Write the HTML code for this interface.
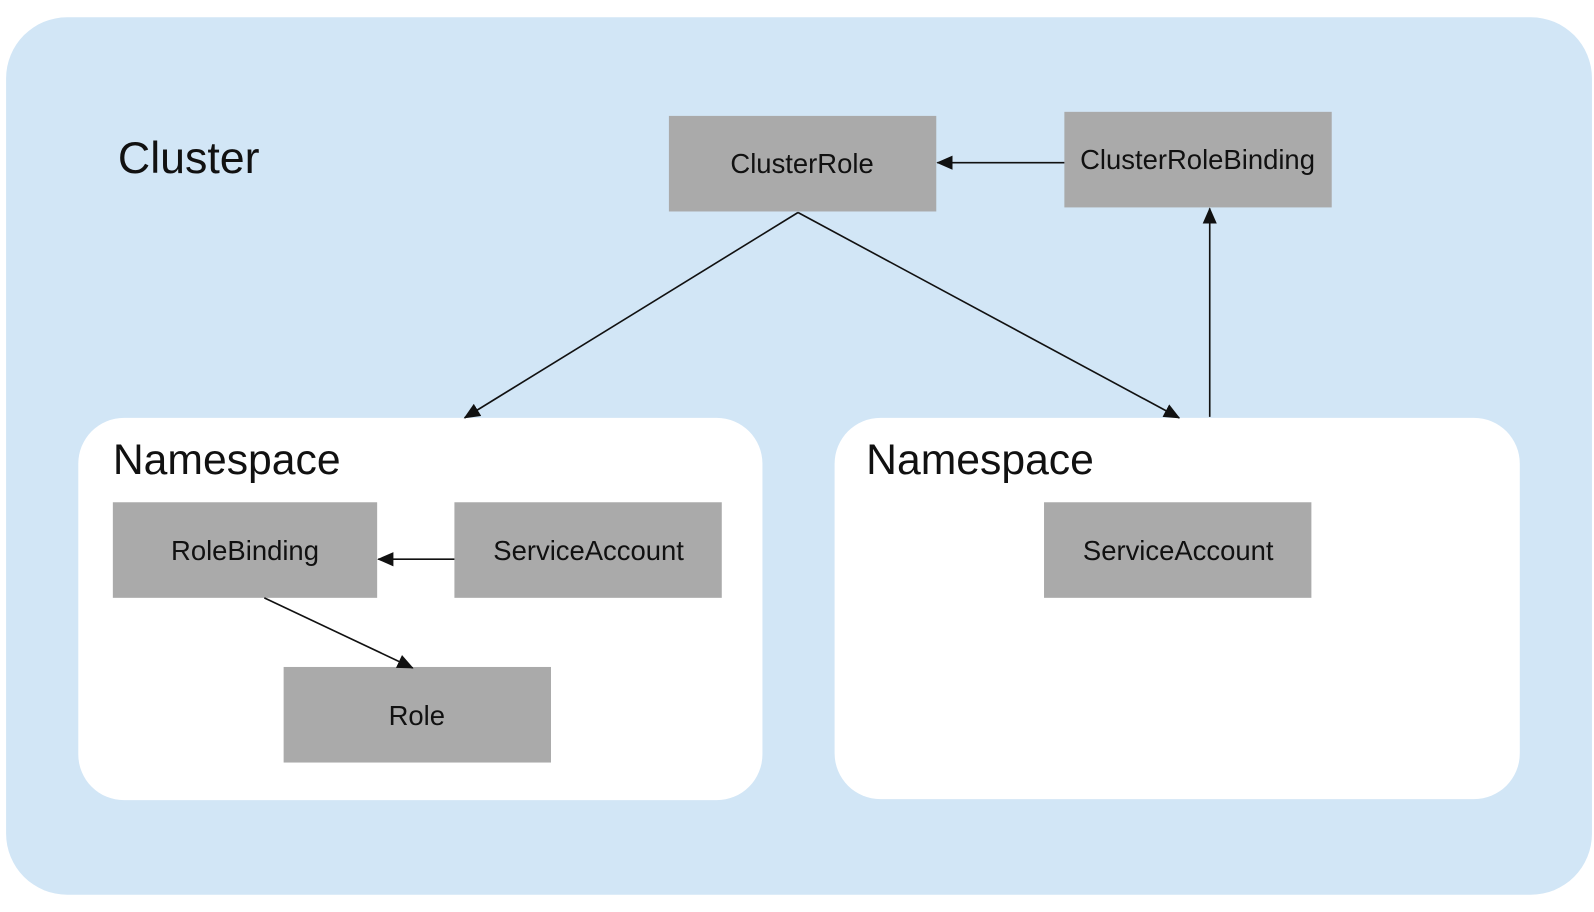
<!DOCTYPE html>
<html><head><style>html,body{margin:0;padding:0;background:#fff}svg{display:block}</style></head>
<body>
<svg width="1594" height="912" viewBox="0 0 1568 897" preserveAspectRatio="none" xmlns="http://www.w3.org/2000/svg">
<defs><marker id="a" markerWidth="10" markerHeight="10" refX="9" refY="5" orient="auto" markerUnits="userSpaceOnUse" viewBox="0 0 10 10"><path d="M0,0 L10,5 L0,10 z" fill="#111"/></marker>
<marker id="b" markerWidth="16" markerHeight="14" refX="15" refY="7" orient="auto" markerUnits="userSpaceOnUse" viewBox="0 0 16 14"><path d="M0,0 L16,7 L0,14 z" fill="#111"/></marker></defs>
<rect x="6" y="17" width="1560" height="863" rx="60" fill="#d2e6f6"/>
<rect x="77" y="411" width="673" height="376" rx="45" fill="#fff"/>
<rect x="821" y="411" width="674" height="375" rx="45" fill="#fff"/>
<g fill="#aaaaaa">
<rect x="658" y="114" width="263" height="94"/>
<rect x="1047" y="110" width="263" height="94"/>
<rect x="111" y="494" width="260" height="94"/>
<rect x="447" y="494" width="263" height="94"/>
<rect x="1027" y="494" width="263" height="94"/>
<rect x="279" y="656" width="263" height="94"/>
</g>
<g font-family="Liberation Sans Narrow, Liberation Sans, sans-serif" fill="#111">
<text x="116" y="170" font-size="44">Cluster</text>
<text x="111" y="466" font-size="42">Namespace</text>
<text x="852" y="466" font-size="42">Namespace</text>
<g font-size="27" text-anchor="middle">
<text x="789" y="170">ClusterRole</text>
<text x="1178" y="166">ClusterRoleBinding</text>
<text x="241" y="551">RoleBinding</text>
<text x="579" y="551">ServiceAccount</text>
<text x="1159" y="551">ServiceAccount</text>
<text x="410" y="713">Role</text>
</g></g>
<g stroke="#111" stroke-width="1.6" fill="none">
<line x1="1047" y1="160" x2="922" y2="160" marker-end="url(#b)"/>
<line x1="785" y1="209" x2="457" y2="411" marker-end="url(#b)"/>
<line x1="785" y1="209" x2="1160" y2="411" marker-end="url(#b)"/>
<line x1="1190" y1="410" x2="1190" y2="205" marker-end="url(#b)"/>
<line x1="447" y1="550" x2="372" y2="550" marker-end="url(#b)"/>
<line x1="260" y1="588" x2="406" y2="657" marker-end="url(#b)"/>
</g>
</svg>
</body></html>
